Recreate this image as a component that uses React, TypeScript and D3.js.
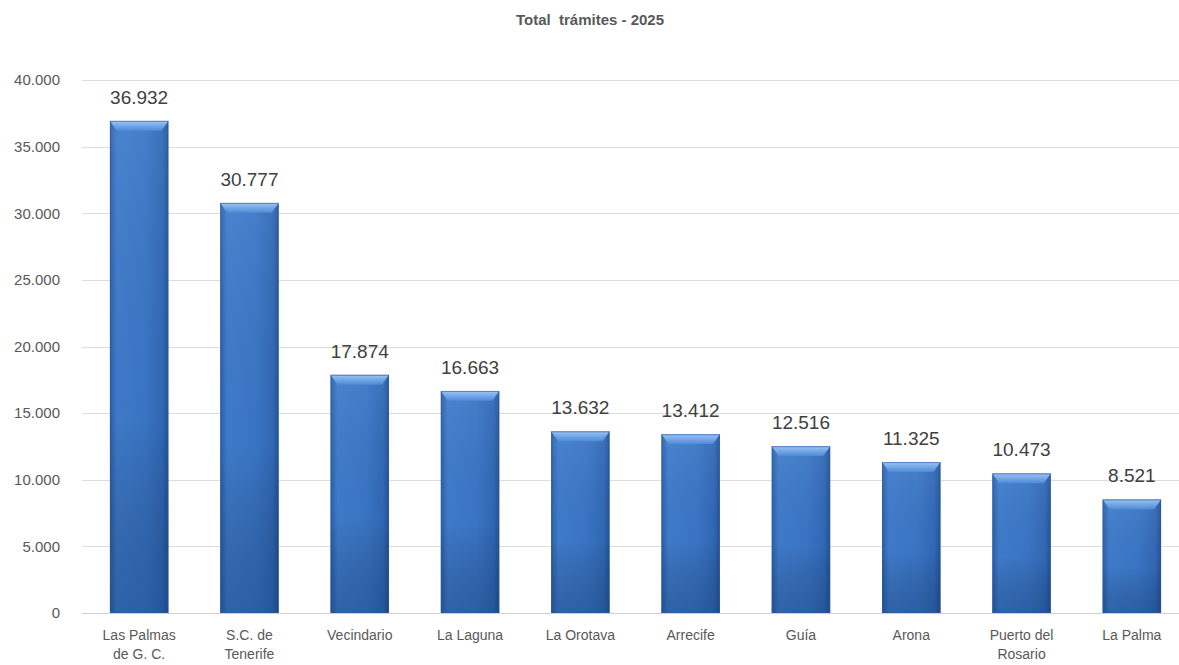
import React, { useEffect, useRef } from 'react';
import * as d3 from 'd3';

const categories: string[][] = [
	['Las Palmas', 'de G. C.'],
	['S.C. de', 'Tenerife'],
	['Vecindario'],
	['La Laguna'],
	['La Orotava'],
	['Arrecife'],
	['Guía'],
	['Arona'],
	['Puerto del', 'Rosario'],
	['La Palma'],
];
const values: number[] = [36932, 30777, 17874, 16663, 13632, 13412, 12516, 11325, 10473, 8521];
const yTicks: number[] = [0, 5000, 10000, 15000, 20000, 25000, 30000, 35000, 40000];
const title = 'Total  trámites - 2025';

const W = 1179;
const H = 665;
const margin = { top: 80, right: -8, bottom: 52, left: 84 };
const fmt = (v: number) => d3.format(',')(v).replace(/,/g, '.');

const App: React.FC = () => {
	const ref = useRef<SVGSVGElement>(null);

	useEffect(() => {
		document.body.style.margin = '0';
		const svg = d3.select(ref.current);
		svg.selectAll('*').remove();

		const innerW = W - margin.left - margin.right;
		const innerH = H - margin.top - margin.bottom;
		const ids = categories.map((c, i) => String(i));

		const x = d3.scaleBand().domain(ids).range([0, innerW]).paddingInner(0.47).paddingOuter(0.235);
		const y = d3.scaleLinear().domain([0, 40000]).range([innerH, 0]);

		const defs = svg.append('defs');
		const body = defs.append('linearGradient').attr('id', 'barBody').attr('x1', 0).attr('x2', 1).attr('y1', 0).attr('y2', 0);
		body.append('stop').attr('offset', '0%').attr('stop-color', '#2b5fa8');
		body.append('stop').attr('offset', '12%').attr('stop-color', '#3f7ccc');
		body.append('stop').attr('offset', '60%').attr('stop-color', '#3a76c6');
		body.append('stop').attr('offset', '90%').attr('stop-color', '#3169b6');
		body.append('stop').attr('offset', '100%').attr('stop-color', '#24539a');
		const shade = defs.append('linearGradient').attr('id', 'barShade').attr('x1', 0).attr('x2', 0).attr('y1', 0).attr('y2', 1);
		shade.append('stop').attr('offset', '0%').attr('stop-color', '#ffffff').attr('stop-opacity', 0.06);
		shade.append('stop').attr('offset', '60%').attr('stop-color', '#000000').attr('stop-opacity', 0.02);
		shade.append('stop').attr('offset', '100%').attr('stop-color', '#0a2a5a').attr('stop-opacity', 0.3);
		const bevel = defs.append('linearGradient').attr('id', 'barBevel').attr('x1', 0).attr('x2', 0).attr('y1', 0).attr('y2', 1);
		bevel.append('stop').attr('offset', '0%').attr('stop-color', '#9cc4f4');
		bevel.append('stop').attr('offset', '100%').attr('stop-color', '#4d8bd8');

		svg.append('text')
			.attr('x', 590)
			.attr('y', 25)
			.attr('text-anchor', 'middle')
			.attr('font-family', 'Liberation Sans, Arial, sans-serif')
			.attr('font-weight', 'bold')
			.attr('font-size', 15)
			.attr('fill', '#595959')
			.style('white-space', 'pre')
			.text(title);

		const g = svg.append('g').attr('transform', `translate(${margin.left},${margin.top})`);

		g.append('g')
			.selectAll('line')
			.data(yTicks)
			.join('line')
			.attr('x1', -2)
			.attr('x2', innerW)
			.attr('y1', (d) => Math.round(y(d)) + 0.5)
			.attr('y2', (d) => Math.round(y(d)) + 0.5)
			.attr('stroke', (d) => (d === 0 ? '#d0d0d0' : '#dcdcdc'))
			.attr('stroke-width', 1);

		g.append('g')
			.selectAll('text')
			.data(yTicks)
			.join('text')
			.attr('x', -24)
			.attr('y', (d) => y(d))
			.attr('dy', '0.35em')
			.attr('text-anchor', 'end')
			.attr('font-family', 'Liberation Sans, Arial, sans-serif')
			.attr('font-size', 15)
			.attr('fill', '#595959')
			.text((d) => fmt(d));

		const bars = g.append('g').selectAll('g').data(values).join('g');
		const bw = x.bandwidth();
		const bev = 7;

		bars.append('rect')
			.attr('x', (d, i) => x(ids[i])!)
			.attr('y', (d) => y(d))
			.attr('width', bw)
			.attr('height', (d) => innerH - y(d))
			.attr('fill', 'url(#barBody)');
		bars.append('rect')
			.attr('x', (d, i) => x(ids[i])!)
			.attr('y', (d) => y(d))
			.attr('width', bw)
			.attr('height', (d) => innerH - y(d))
			.attr('fill', 'url(#barShade)');
		bars.append('path')
			.attr('d', (d, i) => {
				const x0 = x(ids[i])!;
				const y0 = y(d);
				return `M${x0},${y0} L${x0 + bw},${y0} L${x0 + bw - bev},${y0 + bev * 1.4} L${x0 + bev},${y0 + bev * 1.4} Z`;
			})
			.attr('fill', 'url(#barBevel)');
		bars.append('rect')
			.attr('x', (d, i) => x(ids[i])! + 0.5)
			.attr('y', (d) => y(d) + 0.5)
			.attr('width', bw - 1)
			.attr('height', (d) => innerH - y(d) - 1)
			.attr('fill', 'none')
			.attr('stroke', '#2a5a9e')
			.attr('stroke-opacity', 0.6);

		bars.append('text')
			.attr('x', (d, i) => x(ids[i])! + bw / 2)
			.attr('y', (d) => y(d) - 17)
			.attr('text-anchor', 'middle')
			.attr('font-family', 'Liberation Sans, Arial, sans-serif')
			.attr('font-size', 19)
			.attr('fill', '#404040')
			.text((d) => fmt(d));

		const labels = g.append('g').selectAll('text').data(categories).join('text')
			.attr('x', (d, i) => x(ids[i])! + bw / 2)
			.attr('y', innerH + 27)
			.attr('text-anchor', 'middle')
			.attr('font-family', 'Liberation Sans, Arial, sans-serif')
			.attr('font-size', 14)
			.attr('fill', '#595959');
		labels.selectAll('tspan')
			.data((d) => d)
			.join('tspan')
			.attr('x', function () {
				return (this.parentNode as SVGTextElement).getAttribute('x');
			})
			.attr('dy', (d, i) => (i === 0 ? 0 : 19))
			.text((d) => d);
	}, []);

	return <svg ref={ref} width={W} height={H} style={{ display: 'block', background: '#ffffff' }} />;
};

export default App;
